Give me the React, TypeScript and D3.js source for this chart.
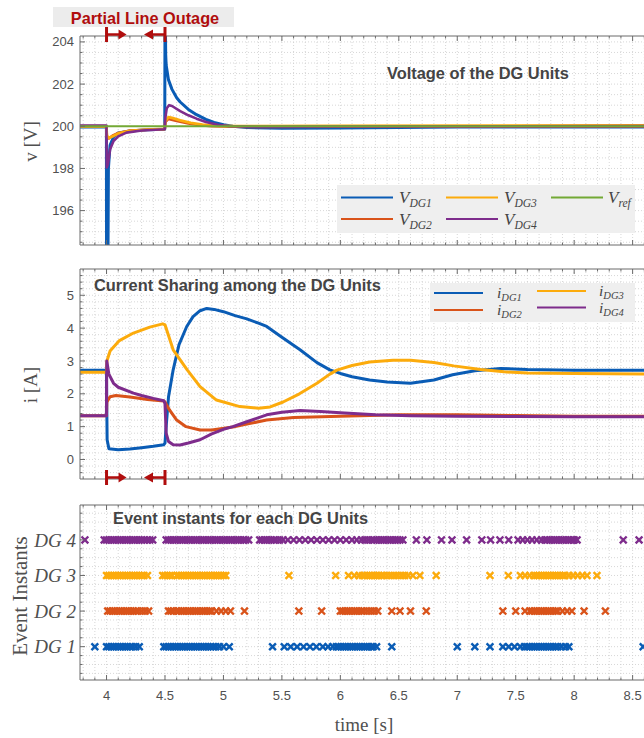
import React from 'react';
import * as d3 from 'd3';

// ---------------- DATA ----------------
const T_DOMAIN: [number, number] = [3.773, 8.7];
const V_DOMAIN: [number, number] = [194.37, 204.28];
const I_DOMAIN: [number, number] = [-0.594, 5.8];
const E_DOMAIN: [number, number] = [0.064, 4.98];

const X_TICKS = [4, 4.5, 5, 5.5, 6, 6.5, 7, 7.5, 8, 8.5];
const V_TICKS = [196, 198, 200, 202, 204];
const I_TICKS = [0, 1, 2, 3, 4, 5];
const DG_TICKS = [1, 2, 3, 4];
const DG_LABELS = ['DG 1', 'DG 2', 'DG 3', 'DG 4'];

type P = [number, number];

const V_DG1: P[] = [[3.773,199.97],[3.999,199.96],[4.0,193.5],[4.012,193.5],[4.016,198.0],[4.03,199.1],[4.06,199.5],[4.1,199.68],[4.2,199.78],[4.35,199.83],[4.498,199.86],[4.5,205],[4.503,205],[4.506,203.4],[4.51,202.9],[4.53,202.2],[4.56,201.75],[4.6,201.35],[4.63,201.15],[4.7,200.8],[4.77,200.55],[4.85,200.33],[4.92,200.18],[5.0,200.07],[5.08,200.0],[5.2,199.94],[5.5,199.9],[6.0,199.92],[6.5,199.94],[7.0,199.96],[8.7,199.96]];
const V_DG2: P[] = [[3.773,200.0],[3.999,200.0],[4.003,199.5],[4.02,199.42],[4.05,199.55],[4.1,199.68],[4.2,199.8],[4.498,199.87],[4.503,200.2],[4.53,200.35],[4.6,200.25],[4.7,200.13],[4.8,200.05],[4.9,200.0],[5.2,199.97],[6.0,199.98],[8.7,199.99]];
const V_DG3: P[] = [[3.773,200.0],[3.999,200.0],[4.003,199.55],[4.02,199.45],[4.05,199.52],[4.1,199.66],[4.2,199.78],[4.35,199.84],[4.498,199.87],[4.503,200.25],[4.53,200.43],[4.56,200.4],[4.63,200.28],[4.72,200.16],[4.82,200.08],[4.92,200.03],[5.1,200.0],[6.0,200.02],[8.7,200.04]];
const V_DG4: P[] = [[3.773,200.03],[3.999,200.03],[4.002,198.05],[4.012,198.2],[4.03,198.9],[4.06,199.3],[4.1,199.52],[4.17,199.7],[4.3,199.8],[4.498,199.86],[4.503,200.4],[4.515,200.85],[4.535,201.0],[4.56,200.96],[4.63,200.72],[4.7,200.52],[4.77,200.36],[4.85,200.2],[4.95,200.07],[5.05,200.0],[5.3,199.97],[6.0,199.99],[8.7,200.01]];
const V_REF: P[] = [[3.773,200],[8.7,200]];

const I_DG1: P[] = [[3.773,2.72],[3.999,2.72],[4.005,0.6],[4.02,0.33],[4.1,0.3],[4.2,0.32],[4.3,0.36],[4.4,0.4],[4.49,0.45],[4.5,0.5],[4.51,1.0],[4.53,1.9],[4.57,2.73],[4.62,3.5],[4.686,4.05],[4.74,4.35],[4.8,4.53],[4.857,4.6],[4.92,4.57],[5.0,4.5],[5.1,4.38],[5.2,4.28],[5.3,4.15],[5.37,4.05],[5.5,3.72],[5.655,3.34],[5.8,2.95],[5.91,2.73],[6.0,2.62],[6.1,2.52],[6.25,2.42],[6.4,2.36],[6.6,2.32],[6.8,2.42],[6.96,2.58],[7.15,2.7],[7.37,2.77],[7.6,2.74],[8.0,2.72],[8.7,2.72]];
const I_DG2: P[] = [[3.773,1.33],[3.999,1.33],[4.003,1.75],[4.03,1.91],[4.08,1.95],[4.2,1.9],[4.35,1.83],[4.49,1.78],[4.5,1.75],[4.54,1.5],[4.6,1.2],[4.68,1.0],[4.8,0.9],[4.9,0.9],[5.08,0.99],[5.2,1.08],[5.37,1.2],[5.6,1.28],[6.0,1.32],[6.5,1.36],[7.0,1.36],[7.5,1.34],[8.0,1.32],[8.7,1.32]];
const I_DG3: P[] = [[3.773,2.66],[3.999,2.66],[4.003,3.0],[4.03,3.3],[4.11,3.62],[4.23,3.85],[4.37,4.03],[4.48,4.13],[4.5,4.1],[4.57,3.34],[4.69,2.73],[4.8,2.22],[4.94,1.81],[5.14,1.61],[5.3,1.56],[5.4,1.6],[5.51,1.75],[5.65,2.0],[5.8,2.32],[5.91,2.6],[5.97,2.72],[6.1,2.86],[6.25,2.97],[6.45,3.02],[6.6,3.02],[6.8,2.95],[6.97,2.85],[7.2,2.74],[7.4,2.67],[7.6,2.63],[8.0,2.62],[8.7,2.6]];
const I_DG4: P[] = [[3.773,1.33],[3.999,1.33],[4.002,3.0],[4.02,2.6],[4.06,2.32],[4.1,2.2],[4.23,2.02],[4.3,1.95],[4.4,1.86],[4.49,1.79],[4.5,1.7],[4.51,0.8],[4.53,0.55],[4.57,0.45],[4.63,0.44],[4.7,0.5],[4.8,0.6],[4.9,0.78],[5.0,0.92],[5.08,1.0],[5.2,1.15],[5.37,1.36],[5.5,1.44],[5.655,1.49],[5.83,1.46],[6.0,1.42],[6.3,1.36],[6.6,1.33],[7.0,1.32],[7.5,1.31],[8.0,1.3],[8.7,1.3]];

const DG1_EVENTS = [3.9,
  4.0,4.02,4.04,4.06,4.08,4.1,4.12,4.14,4.16,4.18,4.2,4.22,4.25,4.28,
  4.49,4.51,4.53,4.55,4.57,4.59,4.61,4.63,4.65,4.67,4.69,4.71,4.73,4.75,4.77,4.79,4.81,4.83,4.85,4.87,4.89,4.91,4.935,4.965,5.0,5.05,
  5.42,5.52,5.575,5.63,5.685,5.74,5.795,5.85,5.895,5.935,
  5.965,5.985,6.005,6.025,6.045,6.065,6.085,6.105,6.125,6.145,6.165,6.185,6.205,6.225,6.245,6.265,6.28,6.31,6.44,
  7.0,7.15,7.28,7.39,7.44,7.49,7.54,7.575,
  7.6,7.62,7.64,7.66,7.68,7.7,7.72,7.74,7.76,7.78,7.8,7.82,7.84,7.86,7.89,7.925,7.955,
  8.59];
const DG2_EVENTS = [
  4.01,4.03,4.05,4.07,4.09,4.11,4.13,4.15,4.17,4.19,4.21,4.23,4.25,4.27,4.3,4.33,4.36,
  4.53,4.55,4.57,4.6,4.62,4.64,4.66,4.68,4.7,4.72,4.74,4.76,4.78,4.8,4.82,4.84,4.86,4.88,4.9,4.94,4.98,5.02,5.06,
  5.18,5.645,5.84,
  6.0,6.02,6.04,6.06,6.08,6.1,6.12,6.14,6.16,6.18,6.2,6.23,6.26,6.29,6.32,6.44,6.51,6.6,6.735,
  7.39,7.5,7.58,
  7.62,7.64,7.66,7.68,7.7,7.72,7.74,7.76,7.78,7.8,7.82,7.84,7.86,7.9,7.94,7.98,8.085,8.267];
const DG3_EVENTS = [
  4.0,4.02,4.04,4.06,4.08,4.1,4.12,4.14,4.16,4.18,4.2,4.22,4.24,4.26,4.28,4.3,4.32,4.35,
  4.48,4.5,4.52,4.54,4.56,4.6,4.62,4.64,4.66,4.68,4.7,4.72,4.74,4.76,4.78,4.8,4.82,4.84,4.86,4.88,4.9,4.92,4.94,4.96,4.98,5.0,5.02,
  5.56,5.96,6.07,6.12,6.16,
  6.19,6.21,6.23,6.25,6.27,6.29,6.31,6.33,6.35,6.37,6.4,6.43,6.46,6.49,6.52,6.55,6.58,6.62,6.68,6.82,
  7.28,7.437,7.54,7.58,7.62,7.655,
  7.68,7.7,7.72,7.74,7.76,7.78,7.8,7.82,7.84,7.86,7.88,7.9,7.92,7.955,7.99,8.03,8.07,8.11,8.195];
const DG4_EVENTS = [3.815,
  3.98,4.0,4.02,4.04,4.06,4.08,4.1,4.12,4.14,4.16,4.18,4.2,4.22,4.24,4.26,4.28,4.3,4.32,4.345,4.37,4.395,
  4.51,4.53,4.55,4.57,4.59,4.61,4.63,4.65,4.67,4.69,4.71,4.73,4.75,4.77,4.79,4.81,4.83,4.85,4.87,4.89,4.91,4.93,4.95,4.97,4.99,5.01,5.03,5.05,5.07,5.09,5.11,5.13,5.15,5.17,5.19,5.216,
  5.31,5.33,5.35,5.37,5.39,5.41,5.43,5.45,5.48,5.51,5.55,5.6,5.65,5.7,5.75,5.8,5.85,5.9,5.95,6.0,6.05,6.1,6.14,6.18,6.21,6.24,6.27,
  6.29,6.31,6.33,6.35,6.37,6.39,6.41,6.43,6.45,6.47,6.49,6.51,6.535,
  6.65,6.74,6.865,6.955,7.08,7.21,7.285,7.365,7.44,7.52,7.56,7.6,7.64,7.68,7.72,7.75,
  7.77,7.79,7.81,7.83,7.85,7.87,7.89,7.91,7.93,7.95,7.97,7.99,8.0,8.025,
  8.42,8.555];

// ---------------- STYLE ----------------
const C_BLUE = '#0a5cb5';
const C_ORANGE = '#d9531a';
const C_YELLOW = '#fcab0c';
const C_PURPLE = '#7e2c8c';
const C_GREEN = '#73a935';
const C_RED = '#b00d0d';
const C_AXIS = '#6a6a6a';
const C_TEXT = '#505050';
const C_TITLE = '#444444';
const FONT_SANS = "'Liberation Sans', Arial, Helvetica, sans-serif";
const FONT_SERIF = "'Liberation Serif', 'Times New Roman', serif";

const PLOT_LEFT = 80;
const PLOT_RIGHT = 656;
const TOP = { top: 36, bottom: 245 };
const MID = { top: 269, bottom: 479 };
const BOT = { top: 505, bottom: 680 };

export default function App() {
  const x = d3.scaleLinear().domain(T_DOMAIN).range([PLOT_LEFT, PLOT_RIGHT]);
  const yV = d3.scaleLinear().domain(V_DOMAIN).range([TOP.bottom, TOP.top]);
  const yI = d3.scaleLinear().domain(I_DOMAIN).range([MID.bottom, MID.top]);
  const yE = d3.scaleLinear().domain(E_DOMAIN).range([BOT.bottom, BOT.top]);

  const lineV = d3.line<P>().x(d => x(d[0])).y(d => yV(d[1]));
  const lineI = d3.line<P>().x(d => x(d[0])).y(d => yI(d[1]));

  const xMinor = d3.range(38, 88).map(d => d / 10);
  const vMinor = d3.range(389, 409).map(d => d / 2);
  const iMinor = d3.range(-2, 29).map(d => d / 5);
  const eMinor = d3.range(1, 20).map(d => d / 4);

  const isMajorX = (t: number) => X_TICKS.some(m => Math.abs(m - t) < 1e-6);

  const grid = (y: d3.ScaleLinear<number, number>, panel: { top: number; bottom: number }, yMinor: number[]) => (
    <g stroke="#cdcdcd" strokeWidth={0.8} strokeDasharray="1 2">
      {xMinor.map(t => (
        <line key={'gx' + t} x1={x(t)} x2={x(t)} y1={panel.top} y2={panel.bottom} />
      ))}
      {yMinor.filter(v => y(v) > panel.top + 1 && y(v) < panel.bottom - 1).map(v => (
        <line key={'gy' + v} x1={PLOT_LEFT} x2={PLOT_RIGHT} y1={y(v)} y2={y(v)} />
      ))}
    </g>
  );

  const frame = (y: d3.ScaleLinear<number, number>, panel: { top: number; bottom: number }, yMinor: number[], yMajor: number[]) => (
    <g stroke={C_AXIS} strokeWidth={1}>
      <line x1={PLOT_LEFT} x2={PLOT_RIGHT} y1={panel.top} y2={panel.top} />
      <line x1={PLOT_LEFT} x2={PLOT_RIGHT} y1={panel.bottom} y2={panel.bottom} />
      <line x1={PLOT_LEFT} x2={PLOT_LEFT} y1={panel.top} y2={panel.bottom} />
      {xMinor.map(t => {
        const len = isMajorX(t) ? 5 : 2.5;
        return (
          <g key={'tx' + t}>
            <line x1={x(t)} x2={x(t)} y1={panel.top} y2={panel.top + len} />
            <line x1={x(t)} x2={x(t)} y1={panel.bottom} y2={panel.bottom - len} />
          </g>
        );
      })}
      {yMinor.filter(v => y(v) >= panel.top && y(v) <= panel.bottom).map(v => {
        const major = yMajor.some(m => Math.abs(m - v) < 1e-6);
        return <line key={'ty' + v} x1={PLOT_LEFT} x2={PLOT_LEFT + (major ? 5 : 2.5)} y1={y(v)} y2={y(v)} />;
      })}
    </g>
  );

  const yLabels = (y: d3.ScaleLinear<number, number>, ticks: number[]) => (
    <g fontFamily={FONT_SANS} fontSize={13} fill={C_TEXT} textAnchor="end">
      {ticks.map(v => (
        <text key={'yl' + v} x={PLOT_LEFT - 6} y={y(v)} dy="0.35em">{v}</text>
      ))}
    </g>
  );

  const arrows = (yc: number) => {
    const x0 = x(4.0);
    const x1 = x(4.5);
    return (
      <g stroke={C_RED} fill={C_RED}>
        <line x1={x0} x2={x0} y1={yc - 7.5} y2={yc + 7.5} strokeWidth={3} />
        <line x1={x0} x2={x0 + 13} y1={yc} y2={yc} strokeWidth={2.5} />
        <path d={`M${x0 + 12},${yc - 5} L${x0 + 20},${yc} L${x0 + 12},${yc + 5} Z`} stroke="none" />
        <line x1={x1} x2={x1} y1={yc - 7.5} y2={yc + 7.5} strokeWidth={3} />
        <line x1={x1} x2={x1 - 13} y1={yc} y2={yc} strokeWidth={2.5} />
        <path d={`M${x1 - 12},${yc - 5} L${x1 - 21},${yc} L${x1 - 12},${yc + 5} Z`} stroke="none" />
      </g>
    );
  };

  const marker = (cx: number, cy: number, color: string, key: string) => (
    <path key={key} d={`M${cx - 3.4},${cy - 3.4}L${cx + 3.4},${cy + 3.4}M${cx - 3.4},${cy + 3.4}L${cx + 3.4},${cy - 3.4}`} stroke={color} strokeWidth={2.4} fill="none" />
  );

  const eventRows: { level: number; times: number[]; color: string }[] = [
    { level: 4, times: DG4_EVENTS, color: C_PURPLE },
    { level: 3, times: DG3_EVENTS, color: C_YELLOW },
    { level: 2, times: DG2_EVENTS, color: C_ORANGE },
    { level: 1, times: DG1_EVENTS, color: C_BLUE },
  ];

  const vSeries: { data: P[]; color: string; w: number }[] = [
    { data: V_DG1, color: C_BLUE, w: 3 },
    { data: V_DG2, color: C_ORANGE, w: 2.6 },
    { data: V_DG3, color: C_YELLOW, w: 2.8 },
    { data: V_DG4, color: C_PURPLE, w: 2.6 },
    { data: V_REF, color: C_GREEN, w: 2 },
  ];
  const iSeries: { data: P[]; color: string; w: number }[] = [
    { data: I_DG1, color: C_BLUE, w: 3 },
    { data: I_DG2, color: C_ORANGE, w: 3 },
    { data: I_DG3, color: C_YELLOW, w: 3 },
    { data: I_DG4, color: C_PURPLE, w: 3 },
  ];

  const legendText = (xp: number, yp: number, main: string, sub: string, size: number) => (
    <text x={xp} y={yp} fontFamily={FONT_SERIF} fontStyle="italic" fontSize={size} fill={C_TITLE}>
      {main}
      <tspan fontSize={size * 0.68} dy={size * 0.22}>{sub}</tspan>
    </text>
  );

  return (
    <svg width={644} height={738} style={{ position: 'absolute', left: 0, top: 0, background: '#ffffff' }}>
      <defs>
        <clipPath id="clipTop"><rect x={PLOT_LEFT} y={TOP.top} width={PLOT_RIGHT - PLOT_LEFT} height={TOP.bottom - TOP.top} /></clipPath>
        <clipPath id="clipMid"><rect x={PLOT_LEFT} y={MID.top} width={PLOT_RIGHT - PLOT_LEFT} height={MID.bottom - MID.top} /></clipPath>
        <clipPath id="clipBot"><rect x={PLOT_LEFT} y={BOT.top} width={PLOT_RIGHT - PLOT_LEFT} height={BOT.bottom - BOT.top} /></clipPath>
      </defs>
      <rect x={0} y={0} width={644} height={738} fill="#ffffff" />

      {/* Title box */}
      <rect x={53} y={7} width={181} height={20} fill="#ececec" />
      <text x={145} y={23.5} textAnchor="middle" fontFamily={FONT_SANS} fontWeight="bold" fontSize={16.3} fill={C_RED}>Partial Line Outage</text>

      {/* ---- Top panel ---- */}
      {grid(yV, TOP, vMinor)}
      <g clipPath="url(#clipTop)" fill="none" strokeLinejoin="round">
        {vSeries.map((s, i) => (
          <path key={'v' + i} d={lineV(s.data) || ''} stroke={s.color} strokeWidth={s.w} />
        ))}
      </g>
      {frame(yV, TOP, vMinor, V_TICKS)}
      {yLabels(yV, V_TICKS)}
      <text x={387} y={79} fontFamily={FONT_SANS} fontWeight="bold" fontSize={16.4} fill={C_TITLE}>Voltage of the DG Units</text>
      <text transform={`translate(37,${(TOP.top + TOP.bottom) / 2 + 1}) rotate(-90)`} textAnchor="middle" fontFamily={FONT_SERIF} fontSize={19} fill={C_TEXT}>v [V]</text>
      {/* legend top */}
      <rect x={337} y={185} width={298} height={48} fill="#efefef" />
      <g strokeWidth={2.2}>
        <line x1={341} x2={393} y1={197.5} y2={197.5} stroke={C_BLUE} />
        <line x1={341} x2={393} y1={219} y2={219} stroke={C_ORANGE} />
        <line x1={446} x2={498} y1={197.5} y2={197.5} stroke={C_YELLOW} />
        <line x1={446} x2={498} y1={219} y2={219} stroke={C_PURPLE} />
        <line x1={551} x2={603} y1={197.5} y2={197.5} stroke={C_GREEN} />
      </g>
      {legendText(399, 203, 'V', 'DG1', 17)}
      {legendText(399, 225, 'V', 'DG2', 17)}
      {legendText(504, 203, 'V', 'DG3', 17)}
      {legendText(504, 225, 'V', 'DG4', 17)}
      {legendText(608, 203, 'V', 'ref', 17)}
      {arrows(34.5)}

      {/* ---- Middle panel ---- */}
      {grid(yI, MID, iMinor)}
      <g clipPath="url(#clipMid)" fill="none" strokeLinejoin="round">
        {iSeries.map((s, i) => (
          <path key={'i' + i} d={lineI(s.data) || ''} stroke={s.color} strokeWidth={s.w} />
        ))}
      </g>
      {frame(yI, MID, iMinor, I_TICKS)}
      {yLabels(yI, I_TICKS)}
      <text x={94} y={291} fontFamily={FONT_SANS} fontWeight="bold" fontSize={16.4} fill={C_TITLE}>Current Sharing among the DG Units</text>
      <text transform={`translate(37,${385}) rotate(-90)`} textAnchor="middle" fontFamily={FONT_SERIF} fontSize={19} fill={C_TEXT}>i [A]</text>
      <rect x={430} y={283} width={205} height={39} fill="#efefef" />
      <g strokeWidth={2.2}>
        <line x1={434} x2={483} y1={293} y2={293} stroke={C_BLUE} />
        <line x1={434} x2={483} y1={310} y2={310} stroke={C_ORANGE} />
        <line x1={537} x2={586} y1={291} y2={291} stroke={C_YELLOW} />
        <line x1={537} x2={586} y1={307.5} y2={307.5} stroke={C_PURPLE} />
      </g>
      {legendText(497, 298, 'i', 'DG1', 15.5)}
      {legendText(497, 315, 'i', 'DG2', 15.5)}
      {legendText(599, 296, 'i', 'DG3', 15.5)}
      {legendText(599, 313, 'i', 'DG4', 15.5)}
      {arrows(477.5)}

      {/* ---- Bottom panel ---- */}
      {grid(yE, BOT, eMinor)}
      <g clipPath="url(#clipBot)">
        {eventRows.map(r => r.times.map((t, j) => marker(x(t), yE(r.level), r.color, `e${r.level}-${j}`)))}
      </g>
      {frame(yE, BOT, eMinor, DG_TICKS)}
      <g fontFamily={FONT_SERIF} fontStyle="italic" fontSize={19} fill={C_TEXT} textAnchor="end">
        {DG_TICKS.map((v, i) => (
          <text key={'dg' + v} x={PLOT_LEFT - 4} y={yE(v)} dy="0.35em">{DG_LABELS[i]}</text>
        ))}
      </g>
      <text x={113} y={524} fontFamily={FONT_SANS} fontWeight="bold" fontSize={16.4} fill={C_TITLE}>Event instants for each DG Units</text>
      <text transform={`translate(27,${596}) rotate(-90)`} textAnchor="middle" fontFamily={FONT_SERIF} fontSize={21} fill={C_TEXT}>Event Instants</text>
      <g fontFamily={FONT_SANS} fontSize={13} fill={C_TEXT} textAnchor="middle">
        {X_TICKS.map(t => (
          <text key={'xl' + t} x={x(t)} y={700}>{t}</text>
        ))}
      </g>
      <text x={364} y={731} textAnchor="middle" fontFamily={FONT_SERIF} fontSize={19} fill={C_TEXT}>time [s]</text>
    </svg>
  );
}
